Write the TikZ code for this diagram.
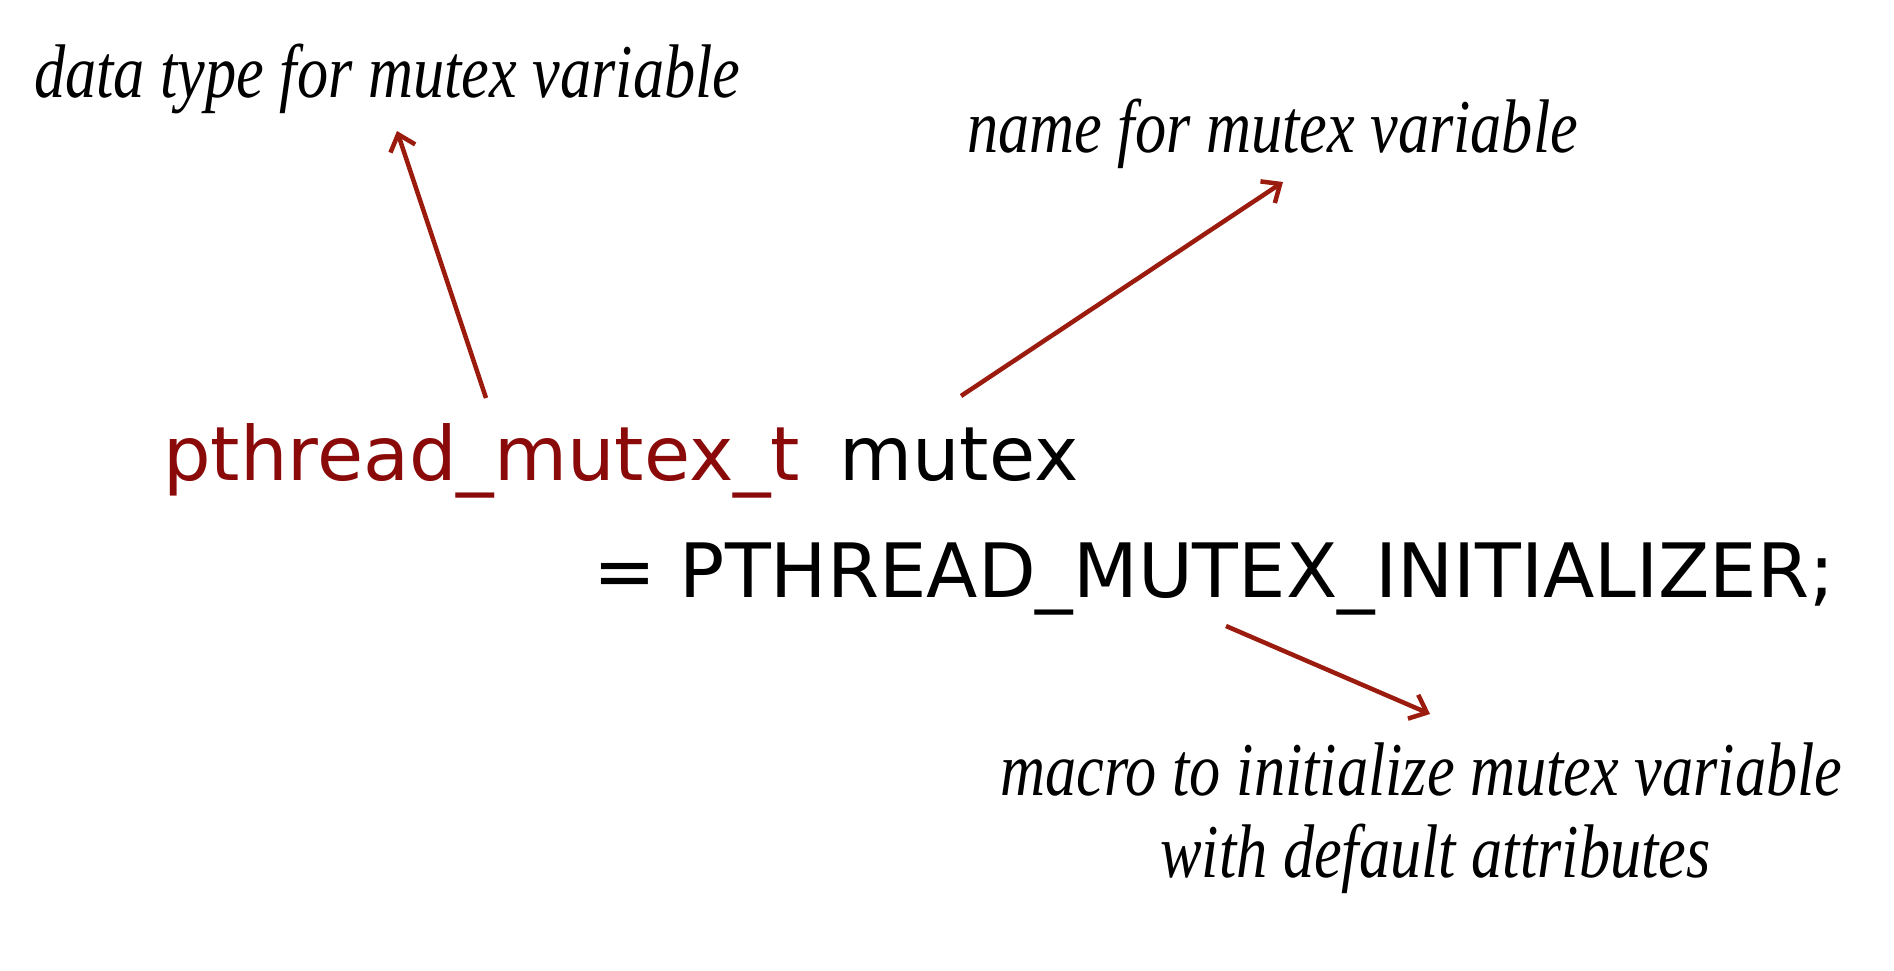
\documentclass[tikz,border=0pt]{standalone}
\usepackage{fontspec}
\setmainfont{Liberation Serif}
\newfontfamily\annfont{Liberation Serif}[FakeStretch=0.82]
\newfontfamily\codefont{DejaVu Sans}
\usetikzlibrary{arrows.meta}
\definecolor{codered}{HTML}{8A0A0A}
\definecolor{arrowred}{HTML}{9B1C0E}
\begin{document}
\begin{tikzpicture}[x=1pt,y=-1pt,
  ann/.style={anchor=base west,inner sep=0pt,font=\annfont\itshape\fontsize{76}{80}\selectfont},
  code/.style={anchor=base west,inner sep=0pt,font=\codefont\fontsize{75}{80}\selectfont},
  pointer/.style={draw=arrowred,line width=4.5pt,-{Straight Barb[length=15pt,width=26pt,line width=4.5pt]}}]
\useasboundingbox (0,0) rectangle (1894,970);
\node[ann] (dtype) at (34,97) {data type for mutex variable};
\node[ann] (vname) at (967,152) {name for mutex variable};
\node[code,text=codered] (ptype) at (163,480) {pthread\_mutex\_t};
\node[code] (pvar) at (839,480) {mutex};
\node[code] (init) at (593,597) {= PTHREAD\_MUTEX\_INITIALIZER;};
\node[ann] (macro1) at (1000,795) {macro to initialize mutex variable};
\node[ann] (macro2) at (1160,877) {with default attributes};
\coordinate (a1s) at (486,398);
\coordinate (a1e) at (397,131);
\coordinate (a2s) at (961,396);
\coordinate (a2e) at (1283,182);
\coordinate (a3s) at (1226,626);
\coordinate (a3e) at (1430,714);
\draw[pointer] (a1s) -- (a1e);
\draw[pointer] (a2s) -- (a2e);
\draw[pointer] (a3s) -- (a3e);
\end{tikzpicture}
\end{document}
